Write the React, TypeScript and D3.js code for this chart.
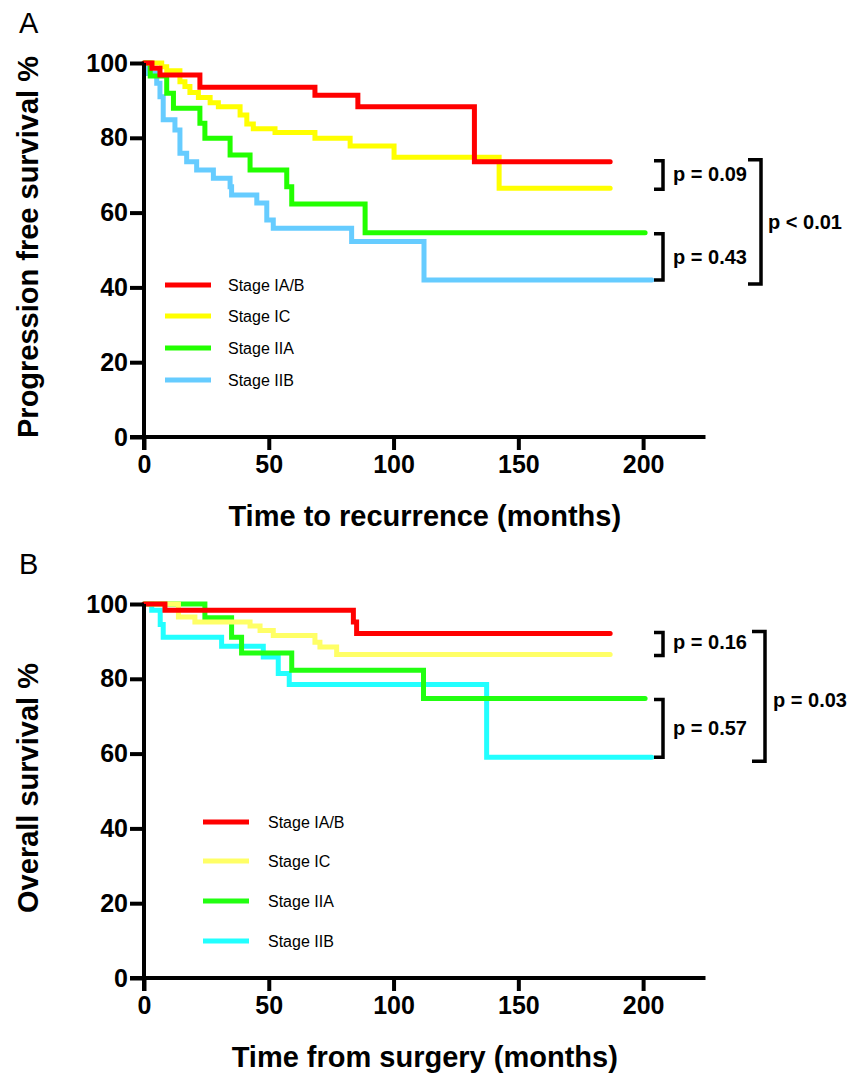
import React, { useEffect, useRef } from 'react';
import * as d3 from 'd3';

// Panel A: progression free survival (months, %)
const pfsIAB_t = [0, 3.2, 6.4, 22.4, 68.5, 85.7, 132.4, 186.8];
const pfsIAB_s = [100, 98.6, 96.8, 93.5, 91.4, 88.3, 73.6, 73.6];
const pfsIC_t = [0, 7.1, 9.1, 14.4, 16.4, 18.4, 21.8, 26.5, 29.8, 38.5, 41.2, 43.8, 52.5, 68.5, 82.6, 100.2, 142.3, 186.8];
const pfsIC_s = [100, 99.0, 97.9, 95.0, 93.7, 92.1, 90.8, 89.4, 88.3, 86.1, 83.7, 82.4, 81.4, 79.9, 77.8, 74.8, 66.5, 66.5];
const pfsIIA_t = [0, 2.5, 9.1, 11.8, 22.4, 24.4, 34.5, 42.5, 57.2, 59.2, 88.6, 200.8];
const pfsIIA_s = [100, 96.5, 91.9, 87.9, 83.9, 79.9, 75.4, 71.4, 66.9, 62.3, 54.6, 54.6];
const pfsIIB_t = [0, 1.7, 5.1, 6.4, 7.7, 12.4, 14.4, 17.1, 21.1, 27.8, 34.5, 35.1, 45.2, 49.2, 51.8, 83.2, 112.2, 203.5];
const pfsIIB_s = [100, 97.2, 94.6, 91.0, 84.8, 82.1, 75.9, 73.6, 71.4, 69.2, 66.9, 64.7, 62.6, 58.0, 55.8, 52.3, 42.0, 42.0];

// Panel B: overall survival
const osIAB_t = [0, 8.4, 83.9, 85.2, 186.8];
const osIAB_s = [100, 98.3, 95.2, 92.1, 92.1];
const osIC_t = [0, 13.8, 20.4, 42.5, 46.5, 51.8, 68.5, 70.5, 77.2, 186.8];
const osIC_s = [100, 96.5, 95.2, 94.1, 92.9, 91.6, 89.8, 88.5, 86.5, 86.5];
const osIIA_t = [0, 24.4, 35.1, 39.1, 59.2, 112, 200.8];
const osIIA_s = [100, 96.3, 91.1, 86.9, 82.3, 74.7, 74.7];
const osIIB_t = [0, 3.1, 6.5, 7.7, 31.1, 47.8, 53.8, 58.2, 137.3, 203.5];
const osIIB_s = [100, 98.3, 94.5, 91.1, 88.7, 85.8, 81.4, 78.5, 59.0, 59.0];

const stages = ['Stage IA/B', 'Stage IC', 'Stage IIA', 'Stage IIB'];
const colorsA = ['#ff0000', '#ffff00', '#22ff00', '#66ccff'];
const colorsB = ['#ff0000', '#ffff66', '#22ff11', '#22ffff'];
const xTicks = [0, 50, 100, 150, 200];
const yTicks = [0, 20, 40, 60, 80, 100];

const pA = ['p = 0.09', 'p = 0.43', 'p < 0.01'];
const pB = ['p = 0.16', 'p = 0.57', 'p = 0.03'];

const FONT = '"Liberation Sans", Arial, Helvetica, sans-serif';

type Series = { t: number[]; s: number[] };

function Panel(props: {
  top: number; bottom: number; letter: string; yTitle: string; xTitle: string;
  series: Series[]; colors: string[]; pvals: string[];
  legendX: number; legendY: number[]; legendTextX: number; bigBracketX: number; bigTextX: number;
  pYOffsets: number[];
}) {
  const { top, bottom, series, colors } = props;
  const xAxisRef = useRef<SVGGElement>(null);
  const yAxisRef = useRef<SVGGElement>(null);

  const x = d3.scaleLinear().domain([0, 225]).range([144, 705.5]);
  const y = d3.scaleLinear().domain([0, 100]).range([bottom, top]);

  useEffect(() => {
    const xa = d3.select(xAxisRef.current!);
    xa.selectAll('*').remove();
    xa.call(d3.axisBottom(x).tickValues(xTicks).tickSize(13).tickSizeOuter(0).tickPadding(5));
    const ya = d3.select(yAxisRef.current!);
    ya.selectAll('*').remove();
    ya.call(d3.axisLeft(y).tickValues(yTicks).tickSize(14).tickSizeOuter(0).tickPadding(2));
    [xa, ya].forEach(a => {
      a.selectAll('path.domain').attr('stroke', '#000').attr('stroke-width', 4);
      a.selectAll('line').attr('stroke', '#000').attr('stroke-width', 4);
      a.selectAll('text').attr('fill', '#000').style('font-family', FONT)
        .style('font-weight', 'bold').style('font-size', '25px');
    });
    // extend the domains so the two axes form a cross at the origin
    xa.select('path.domain').attr('d', `M${x(0) - 14},0H${x(225)}`);
    ya.select('path.domain').attr('d', `M0,${y(100)}V${y(0) + 13}`);
  }, []);

  const line = d3.line<[number, number]>()
    .x(d => x(d[0]))
    .y(d => y(d[1]))
    .curve(d3.curveStepAfter);

  const ends = series.map(s => y(s.s[s.s.length - 1]));
  const bracket = (x0: number, x1: number, y0: number, y1: number) =>
    `M${x0},${y0}H${x1}V${y1}H${x0}`;

  return (
    <g>
      <text x={19} y={top - 30} fontFamily={FONT} fontSize={29}>{props.letter}</text>
      {series.map((s, i) => i).reverse().map(i => (
        <path key={i}
          d={line(series[i].t.map((t, j) => [t, series[i].s[j]] as [number, number])) || ''}
          fill="none" stroke={colors[i]} strokeWidth={5} strokeLinecap="round" strokeLinejoin="miter" />
      ))}
      <g ref={xAxisRef} transform={`translate(0,${bottom})`} />
      <g ref={yAxisRef} transform={`translate(${x(0)},0)`} />
      <text transform={`translate(38,${(top + bottom) / 2 - 3}) rotate(-90)`} textAnchor="middle"
        fontFamily={FONT} fontWeight="bold" fontSize={29}>{props.yTitle}</text>
      <text x={(x(0) + x(225)) / 2} y={bottom + 89} textAnchor="middle"
        fontFamily={FONT} fontWeight="bold" fontSize={29}>{props.xTitle}</text>
      {stages.map((st, i) => (
        <g key={st}>
          <line x1={props.legendX} x2={props.legendX + 46} y1={props.legendY[i]} y2={props.legendY[i]}
            stroke={colors[i]} strokeWidth={5} />
          <text x={props.legendTextX} y={props.legendY[i] + 6} fontFamily={FONT} fontSize={16}>{st}</text>
        </g>
      ))}
      <g fill="none" stroke="#000" strokeWidth={3.5}>
        <path d={bracket(654, 663, ends[0] - 1, ends[1] + 1)} />
        <path d={bracket(654, 663, ends[2] + 1, ends[3])} />
        <path d={bracket(props.bigBracketX - 13, props.bigBracketX, ends[0] - 2, ends[3] + 4)} />
      </g>
      <g fontFamily={FONT} fontWeight="bold" fontSize={20}>
        <text x={673} y={ends[0] + props.pYOffsets[0]}>{props.pvals[0]}</text>
        <text x={673} y={(ends[2] + ends[3]) / 2 + props.pYOffsets[1]}>{props.pvals[1]}</text>
        <text x={props.bigTextX} y={(ends[0] + ends[3]) / 2 + props.pYOffsets[2]}>{props.pvals[2]}</text>
      </g>
    </g>
  );
}

export default function App() {
  return (
    <svg width={850} height={1073} style={{ position: 'absolute', left: 0, top: 0, background: '#fff' }}>
      <rect width={850} height={1073} fill="#fff" />
      <Panel top={63} bottom={437} letter="A" yTitle="Progression free survival %"
        xTitle="Time to recurrence (months)"
        series={[{ t: pfsIAB_t, s: pfsIAB_s }, { t: pfsIC_t, s: pfsIC_s }, { t: pfsIIA_t, s: pfsIIA_s }, { t: pfsIIB_t, s: pfsIIB_s }]}
        colors={colorsA} pvals={pA}
        legendX={165} legendY={[285, 316, 348, 380]} legendTextX={228}
        bigBracketX={761} bigTextX={768} pYOffsets={[19, 8, 8]} />
      <Panel top={604} bottom={978} letter="B" yTitle="Overall survival %"
        xTitle="Time from surgery (months)"
        series={[{ t: osIAB_t, s: osIAB_s }, { t: osIC_t, s: osIC_s }, { t: osIIA_t, s: osIIA_s }, { t: osIIB_t, s: osIIB_s }]}
        colors={colorsB} pvals={pB}
        legendX={203} legendY={[822, 861, 901, 941]} legendTextX={268}
        bigBracketX={765} bigTextX={773} pYOffsets={[15, 7, 12]} />
    </svg>
  );
}
